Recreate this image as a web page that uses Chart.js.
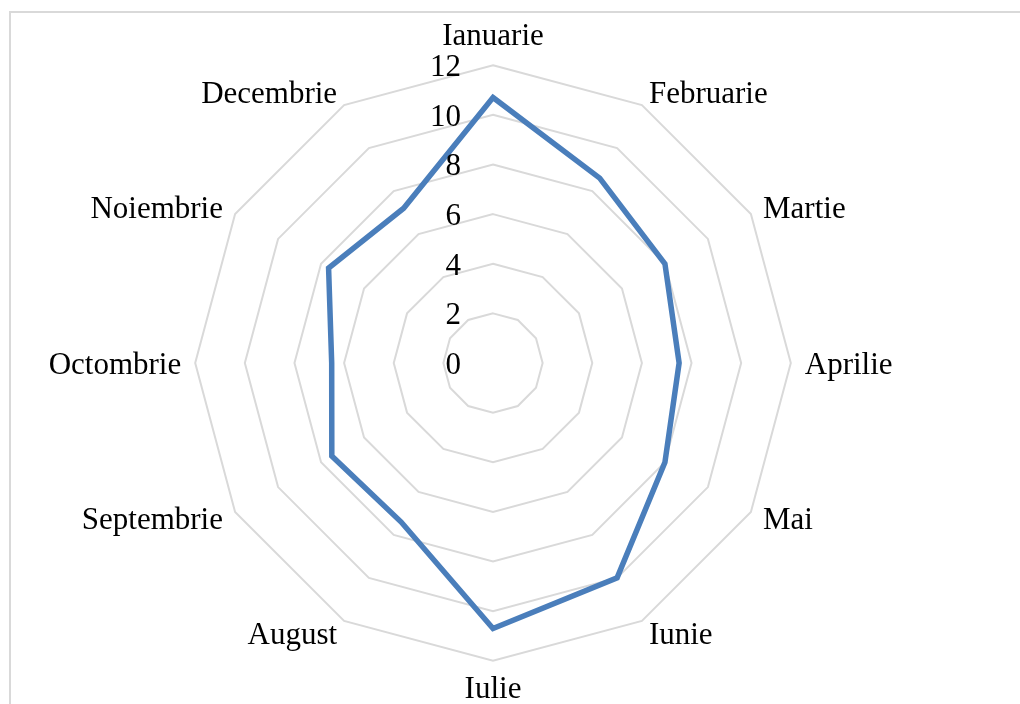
<!DOCTYPE html>
<html>
<head>
<meta charset="utf-8">
<script src="https://cdn.jsdelivr.net/npm/chart.js@4/dist/chart.umd.min.js"></script>
<style>
    html, body { margin: 0; padding: 0; overflow: hidden; background: #fff; }
    #wrap { position: relative; width: 1020px; height: 704px; overflow: hidden; }
    #frame { position: absolute; left: 9px; top: 11px; width: 1100px; height: 800px; border: 2px solid #d9d9d9; }
    #radar-luni { position: absolute; left: 0; top: 0; }
</style>
</head>
<body>
<div id="wrap">
    <div id="frame"></div>
    <canvas id="radar-luni" width="1020" height="711"></canvas>
</div>
<script>
const luni = ["Ianuarie", "Februarie", "Martie", "Aprilie", "Mai", "Iunie", "Iulie", "August", "Septembrie", "Octombrie", "Noiembrie", "Decembrie"];
const valori = [10.7, 8.6, 8.0, 7.5, 8.0, 10.0, 10.7, 7.4, 7.5, 6.5, 7.65, 7.2];
const etichete = [0, 2, 4, 6, 8, 10, 12];

const fontText = '31px "Liberation Serif", "Times New Roman", serif';

// etichete scrise ca in Excel: lunile centrate vertical pe unghi, valorile la stanga axei
const eticheteRadar = {
    id: 'eticheteRadar',
    afterDatasetsDraw(chart) {
        const scale = chart.scales.r;
        const ctx = chart.ctx;
        const n = luni.length;
        ctx.save();
        ctx.font = fontText;
        ctx.fillStyle = '#000';
        ctx.textBaseline = 'alphabetic';

        ctx.textAlign = 'right';
        etichete.forEach((v) => {
            const d = scale.getDistanceFromCenterForValue(v);
            ctx.fillText(String(v), scale.xCenter - 32, scale.yCenter - d + 11);
        });

        luni.forEach((txt, i) => {
            const p = scale.getPointPosition(i, scale.drawingArea + 14);
            let y = p.y + 10.5;
            ctx.textAlign = 'center';
            if (i === 0) {
                y = p.y - 6;
            } else if (i === n / 2) {
                y = p.y + 23;
            } else if (i < n / 2) {
                ctx.textAlign = 'left';
            } else {
                ctx.textAlign = 'right';
            }
            ctx.fillText(txt, p.x, y);
        });
        ctx.restore();
    }
};

new Chart(document.getElementById("radar-luni"), {
    type: 'radar',
    data: {
        labels: luni,
        datasets: [
            {
                label: "Valori",
                data: valori,
                borderColor: "#4a7ebb",
                borderWidth: 5.5,
                borderJoinStyle: 'miter',
                fill: false,
                pointRadius: 0,
                pointHoverRadius: 0,
                tension: 0
            }
        ]
    },
    options: {
        responsive: false,
        animation: false,
        layout: {
            padding: { top: 17, bottom: 0, left: 0, right: 34 }
        },
        plugins: {
            legend: { display: false },
            tooltip: { enabled: false }
        },
        scales: {
            r: {
                min: 0,
                max: 12,
                beginAtZero: true,
                angleLines: { display: false },
                grid: {
                    color: "#d9d9d9",
                    lineWidth: 2,
                    circular: false
                },
                ticks: {
                    display: false,
                    stepSize: 2
                },
                pointLabels: {
                    // pastrate doar pentru spatiul rezervat, textul e desenat de plugin
                    color: "rgba(0,0,0,0)",
                    padding: 12,
                    font: {
                        family: '"Liberation Serif", "Times New Roman", serif',
                        size: 31
                    }
                }
            }
        }
    },
    plugins: [eticheteRadar]
});
</script>
</body>
</html>
